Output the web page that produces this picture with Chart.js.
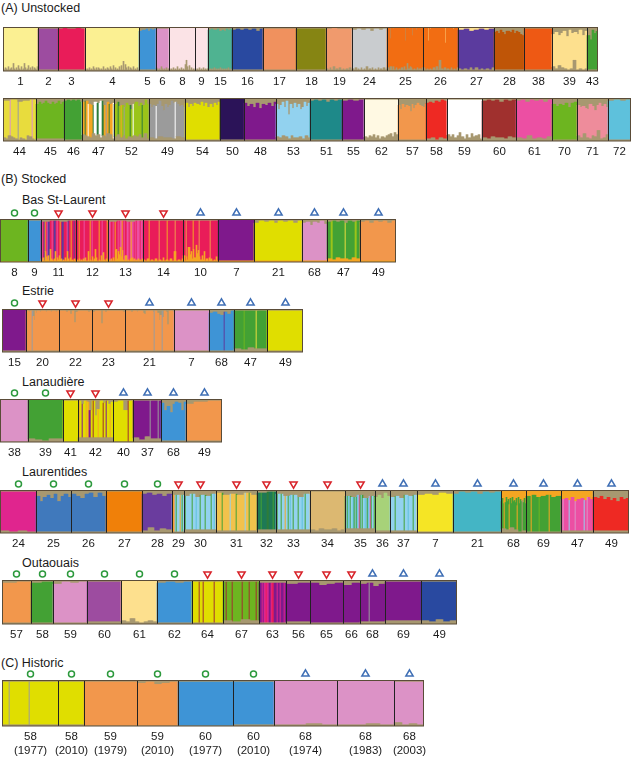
<!DOCTYPE html>
<html>
<head>
<meta charset="utf-8">
<title>Ancestry bars</title>
<script src="https://cdn.jsdelivr.net/npm/chart.js@4"></script>
<style>
    html, body { margin: 0; padding: 0; background: #fff; overflow: hidden; }
    #page { position: relative; width: 632px; height: 757px; font-family: 'Liberation Sans', Arial, sans-serif; color: #1a1a1a; }
    #page canvas { position: absolute; left: 0; }
    .cap { position: absolute; font-size: 12.5px; line-height: 14px; white-space: nowrap; }
</style>
</head>
<body>
<div id="page">
    <div class="cap" style="left:1px;top:1px">(A) Unstocked</div>
    <div class="cap" style="left:1px;top:172px">(B) Stocked</div>
    <div class="cap" style="left:22px;top:193px">Bas St-Laurent</div>
    <div class="cap" style="left:22px;top:284px">Estrie</div>
    <div class="cap" style="left:22px;top:375px">Lanaudière</div>
    <div class="cap" style="left:22px;top:465px">Laurentides</div>
    <div class="cap" style="left:22px;top:556px">Outaouais</div>
    <div class="cap" style="left:1px;top:656px">(C) Historic</div>
</div>
<script>
// one letter per genetic cluster
const clusterColors = {
    a: '#fbf093', b: '#9d4da0', c: '#e91d5a', d: '#3f94d6', e: '#dc92c6', f: '#fbe3e6', g: '#4fb491', h: '#2a4aa0',
    i: '#f0915f', j: '#f2974c', k: '#868514', l: '#f09a6e', m: '#c9cccf', n: '#f26d13', o: '#5c3c9e', p: '#bf5608',
    q: '#ee5a15', r: '#fde08e', s: '#44a235', t: '#a89870', u: '#e8dc3e', v: '#6db521', w: '#ffffff', x: '#9cc41a',
    y: '#9b9b9b', z: '#e0de00', A: '#2c1458', B: '#7f1a8c', C: '#92d2ef', D: '#1f8a8a', E: '#fff9e3', F: '#ee2a24',
    G: '#a0312f', H: '#ec4fa3', I: '#ee8c9c', J: '#5fc1dc', K: '#f5a623', L: '#1f7a55', M: '#45b5c5', N: '#4079bd',
    O: '#f0800a', P: '#dcb872', Q: '#f5e526', R: '#e0268e', S: '#a8d27a', T: '#f2c24c', U: '#2f7d3a', V: '#6a3d9e'
};

// every row: population labels, sample counts, main cluster, marker kind (o circle, v down, ^ up, - none),
// then strings read across each population: admixture height at the top and bottom (base 36), and full height strips

const a1Labels = ['1','2','3','4','5','6','8','9','15','16','17','18','19','24','25','26','27','28','38','39','43'];
const a1Sizes = [35,20,27,54,17,13,26,13,24,31,33,30,26,35,36,35,36,30,28,35,11];
const a1Main = 'abcadeffghiklmnnopqrs';
const a1Marks = '---------------------';
const a1Top = ['','1','101101','','32213121','1','','','21221323121','21212131','1','1','10111','21213121','100a00100000000000c000100700020000100','00000c0100000000000000e0000000100000','2132121','435246334253467','1','6475382546273','7b253'];
const a1Bottom = ['21321412317213152141273125131413214','1','1','212131214213132121412132142151312141519163141321412131','1','3212142121312','21213121412131216a41513121','2121312131212','2121213121213121212131212','11','1','1','2131412131212131','2131213121412131213121312','31414131213141724312131213','3121213141a21312131213','2121313121213','1','11','4253212a1212','1'];
const a1Strips = ['','','','','','','','','','','','','','','','','','','','',''];
const a1TopTint = 'tttttttttttttttrrttttt';

const a2Labels = ['44','45','46','47','52','49','54','50','48','53','51','55','62','57','58','59','60','61','70','71','72'];
const a2Sizes = [33,28,18,32,35,36,35,24,32,34,32,22,34,28,21,35,34,36,25,31,23];
const a2Main = 'uvsKxyzABCDBEjFwGHvIJ';
const a2Marks = '---------------------';
const a2Top = ['21321','5354245354253','2121213','32563426354','5376846a5374615','5867527b5862435768','4857456374858463','','47584956473','5a6382f59485a8374','21213121','2121','1','6a5867c59646785','4342312','1','21213121','21312131','57564843','6879a57b64758','2121'];
const a2Bottom = ['32543213215421','2','1','6543756354762','4635243546372','32433243','1','1','1','435425334253','1','1','4354635243567486','1','23132','646358426374562','32433243','3252324','1','5373254a236','1'];
const a2Strips = ['uuuuuuueuuuuuuuyuuuuuuuuuuuuueuuu','','','wKKUKKwKKKKUwwwUUwwwUUKKyKKUKKKw','UxxxUxxKxxyxxxxxUxxwxxxxxxxxUxxxxxx','yyyyyyywyyyyyyyyyyyyyyyyyywyyyyyyyyy','','','','','','','','','','','','','','',''];

const bslLabels = ['8','9','11','12','13','14','10','7','21','68','47','49'];
const bslSizes = [28,13,35,32,35,40,35,36,48,25,33,36];
const bslMain = 'vdcccccBzesj';
const bslMarks = 'oovvvv^^^^^^';
const bslTop = ['','1','2121','1','2121','1','1','','3121312131','3252314','21213121','21312131'];
const bslBottom = ['','','3141a5261c3213a14261312141a31412131','2131213141a121513c41216192131','2131412c3a7e5b2161213141312131213','2131213121412131a1213','6152e7a3c4g8b5262a13141312151','1','1','1','32433243','1'];
const bslStrips = ['','','cHcoKcHooccHcoocHccKcoocccHoccKccoc','cccKccccHcccccKcHccccccKccHccccK','cHHccHcKccHcHHKcHccHHcHKHHcHcHHHcHH','ccccccKcccccccccjcccccccKcccccccjccccccc','cccjccccccKcccccjccccccccccjccccccc','','','','sssxsssssssssusssssssxsss',''];

const estLabels = ['15','20','22','23','21','7','68','47','49'];
const estSizes = [24,33,33,33,49,35,25,33,36];
const estMain = 'Bjjjjedsz';
const estMarks = 'ovvv^^^^^';
const estTop = ['','112116a13112111121112111211','1112141c21111121','2111d12111111112','11112111211134111112113a51712e1112','1','3245241','1','1'];
const estBottom = ['1','1','1','1','1','1','1','32433','1'];
const estStrips = ['','jjjjjjyjjjjjjjjjjjjjjjjjjjjjjjjjj','','','jjjjjjjjjjjjjjjjjjjjjjjjjjjjjyjjjjjjjyjjjjjjjjjjj','','ddddddddddddddoddddddddd','ssssssssvssssssssssusssssssss',''];

const lanLabels = ['38','39','41','42','40','37','68','49'];
const lanSizes = [28,35,15,35,20,28,25,36];
const lanMain = 'eszzzBdj';
const lanMarks = 'oovv^^^^';
const lanTop = ['','','1','1412a1f913142','21a1','1','3a6c423a2','42211'];
const lanBottom = ['','32133','','4','','42533','1','1'];
const lanStrips = ['','','','zKzzBzzzKzKBBzzGzzzzKzzzzGzzBzzzKzz','zzzzzzzzzzzzzzzGzzzz','BBBBBBBBBBBBBBBBByBBBBBBByBB','',''];

const lauLabels = ['24','25','26','27','28','29','30','31','32','33','34','35','36','37','7','21','68','69','47','49'];
const lauSizes = [36,35,35,36,30,12,32,41,19,34,35,30,15,27,36,48,25,35,32,36];
const lauMain = 'RNNOVCCTLCPCSCQMssHF';
const lauMarks = 'ooooovvvvvvv^^^^^^^^';
const lauTop = ['1','5a6473a536','35732625','1','324353','4','536453','243424','21','35463','1','56475','64725','657454','43423','31213121','a7c9b6a8d7c6a9b7e6c8a9b7c','5465465','8796a87968','6758697a687'];
const lauBottom = ['2121','1','1','1','25243','1','3','2','3','3','32433423','4','2','2','1','1','435312','1','2','2'];
const lauStrips = ['','','','','','CKjCsCCCKCsC','CsCCCCCCsCCCJCCCsCCCCsCCCCCsCCJC','TTTTTTsTTTTTTTCTTTTTsTTTTTTTTCTTTsTTTTTTT','LLLLsLLLLLUULLLLsLL','CsCCCsCCCKCCsCJCCsCCCCsCCCJCCsCCCC','','sCsJCsCCJsCsJCHsCsCCJCsJCHsCCs','','CCCCCsCCCCCCCCsCCCJCCCCsCCC','','','sssKssssKsssssssKsssstsss','sssssKsssssssvsssssssssKsssssssssss','HHeHHHHHCHHHHHeHHHHHHHHCHHeHHHHH',''];
const lauTopTint = 'ttttttttttttttttKKKt';

const outLabels = ['57','58','59','60','61','62','64','67','63','56','65','66','68','69','49'];
const outSizes = [29,22,34,34,36,35,31,36,27,24,33,17,25,36,36];
const outMain = 'jsebrdzvBBBBBBh';
const outMarks = 'oooooovvvvvv^^^';
const outTop = ['21','21','3121','1','','2121','1','1','2','32','2432','42','3253','1','1'];
const outBottom = ['1','1','1','2','32521232','1','1','3243','1','2','1','1','2','3','32423'];
const outStrips = ['','','','','','','zzzzzzzGzzzGzzzzzzzzzzGzzzzzzzz','vvvGvvvvvGvvvvvvvvvGvvvvvvGvvvvvvGvv','BBRBRRcRRBBRcBBBRBBRBBBRB','','','','BBBBBBBBByBBBBBBBBBBBBBBB','',''];

const hisLabels = [['58','(1977)'],['58','(2010)'],['59','(1979)'],['59','(2010)'],['60','(1977)'],['60','(2010)'],['68','(1974)'],['68','(1983)'],['68','(2003)']];
const hisSizes = [56,26,53,41,55,41,63,57,30];
const hisMain = 'zzjjddeee';
const hisMarks = 'oooooo^^^';
const hisTop = ['1','1','1','21321','1','1','','','1'];
const hisBottom = ['1','1','','','','1','1121','1121','3121'];
const hisStrips = ['zzzzzzzyzzzzzzzzzzzzzzzzzzzyzzzzzzzzzzzzzzzzzzzzzzzzzzzz','','','','','','','',''];

const rowFrame = (c) => ({
    id: 'rowFrame',
    afterDatasetsDraw(chart) {
        const g = chart.ctx, xs = chart.scales.x, ys = chart.scales.y;
        const top = ys.getPixelForValue(1), bottom = ys.getPixelForValue(0);
        g.save();
        g.lineWidth = 1;
        g.strokeStyle = '#222';
        c.edges.forEach(i => {
            const x = Math.round(xs.getPixelForValue(i) - 0.5) + 0.5;
            g.beginPath();
            g.moveTo(x, top);
            g.lineTo(x, bottom);
            g.stroke();
        });
        g.strokeStyle = '#5a4c38';
        g.strokeRect(xs.left + 0.5, top - 0.5, xs.right - xs.left - 1, bottom - top + 0.5);
        g.restore();
    }
});

// left: first bar pixel, top/bottom: bar frame pixels
const drawRow = (r) => {
    const room = 14, axis = r.axis || 24;
    const barHeight = r.bottom - r.top;
    const total = r.sizes.reduce((a, b) => a + b, 0);
    const columns = [], tickText = {}, edges = [];
    const bottomVals = [], bodyVals = [], topVals = [], markVals = [];
    const bottomCols = [], bodyCols = [], topCols = [], markKinds = [];

    r.sizes.forEach((n, p) => {
        const start = columns.length;
        if (p > 0) edges.push(start);
        const mid = start + Math.floor(n / 2);
        tickText[mid] = r.labels[p];
        for (let i = 0; i < n; i++) {
            const pick = (s) => s ? s[Math.floor(i * s.length / n)] : null;
            const low = parseInt(pick(r.bottom_[p]) || '0', 36) / 40;
            const high = parseInt(pick(r.top_[p]) || '0', 36) / 40;
            columns.push(String(columns.length));
            bottomVals.push(low);
            topVals.push(high);
            bodyVals.push(1 - low - high);
            bottomCols.push(clusterColors[r.lowTint || 't']);
            topCols.push(clusterColors[r.topTint ? r.topTint[p] : 't']);
            bodyCols.push(clusterColors[pick(r.strips[p]) || r.main[p]]);
            const isMid = start + i === mid && r.marks[p] !== '-';
            markVals.push(isMid ? 1 + 7 / barHeight : null);
            markKinds.push(isMid ? r.marks[p] : '-');
        }
    });

    const canvas = document.createElement('canvas');
    canvas.width = 632;
    canvas.height = room + barHeight + axis;
    canvas.style.top = (r.top - room) + 'px';
    document.getElementById('page').appendChild(canvas);

    const markColor = { o: '#2e9a3e', v: '#d8232a', '^': '#3f6fb5', '-': 'transparent' };

    new Chart(canvas.getContext('2d'), {
        data: {
            labels: columns,
            datasets: [
                { type: 'line', data: markVals, showLine: false, order: 0,
                  pointStyle: c => markKinds[c.dataIndex] === 'o' ? 'circle' : 'triangle',
                  pointRotation: c => markKinds[c.dataIndex] === 'v' ? 180 : 0,
                  pointRadius: c => markKinds[c.dataIndex] === 'o' ? 3 : 4.2,
                  pointBorderWidth: 1.5,
                  pointBorderColor: c => markColor[markKinds[c.dataIndex]],
                  pointBackgroundColor: '#fff' },
                { type: 'bar', data: bottomVals, backgroundColor: bottomCols, stack: 's', order: 1 },
                { type: 'bar', data: bodyVals, backgroundColor: bodyCols, stack: 's', order: 1 },
                { type: 'bar', data: topVals, backgroundColor: topCols, stack: 's', order: 1 }
            ]
        },
        options: {
            responsive: false,
            animation: false,
            events: [],
            layout: { autoPadding: false, padding: { left: r.left, right: 632 - r.left - total, top: 0, bottom: 0 } },
            datasets: { bar: { barPercentage: 1, categoryPercentage: 1, borderWidth: 0 } },
            plugins: { legend: { display: false }, tooltip: { enabled: false } },
            scales: {
                x: {
                    stacked: true,
                    grid: { display: false, drawTicks: false },
                    border: { display: false },
                    afterFit: s => { s.height = axis; s.paddingLeft = 0; s.paddingRight = 0; },
                    ticks: {
                        autoSkip: false, maxRotation: 0, minRotation: 0, padding: 4,
                        color: '#1a1a1a',
                        font: { family: "'Liberation Sans', Arial, sans-serif", size: 11.5, lineHeight: 1.2 },
                        callback: (v, i) => tickText[i] || ''
                    }
                },
                y: { stacked: true, display: false, min: 0, max: 1 + room / barHeight }
            }
        },
        plugins: [rowFrame({ edges })]
    });
};

drawRow({ left: 3, top: 28, bottom: 71, topTint: a1TopTint, labels: a1Labels, sizes: a1Sizes, main: a1Main, marks: a1Marks, top_: a1Top, bottom_: a1Bottom, strips: a1Strips });
drawRow({ left: 3, top: 99, bottom: 141, labels: a2Labels, sizes: a2Sizes, main: a2Main, marks: a2Marks, top_: a2Top, bottom_: a2Bottom, strips: a2Strips });
drawRow({ left: 0, top: 220, bottom: 262, lowTint: 'K', labels: bslLabels, sizes: bslSizes, main: bslMain, marks: bslMarks, top_: bslTop, bottom_: bslBottom, strips: bslStrips });
drawRow({ left: 2, top: 310, bottom: 352, labels: estLabels, sizes: estSizes, main: estMain, marks: estMarks, top_: estTop, bottom_: estBottom, strips: estStrips });
drawRow({ left: 0, top: 400, bottom: 442, labels: lanLabels, sizes: lanSizes, main: lanMain, marks: lanMarks, top_: lanTop, bottom_: lanBottom, strips: lanStrips });
drawRow({ left: 0, top: 491, bottom: 533, topTint: lauTopTint, labels: lauLabels, sizes: lauSizes, main: lauMain, marks: lauMarks, top_: lauTop, bottom_: lauBottom, strips: lauStrips });
drawRow({ left: 2, top: 581, bottom: 624, labels: outLabels, sizes: outSizes, main: outMain, marks: outMarks, top_: outTop, bottom_: outBottom, strips: outStrips });
drawRow({ left: 2, top: 681, bottom: 726, axis: 31, labels: hisLabels, sizes: hisSizes, main: hisMain, marks: hisMarks, top_: hisTop, bottom_: hisBottom, strips: hisStrips });
</script>
</body>
</html>
